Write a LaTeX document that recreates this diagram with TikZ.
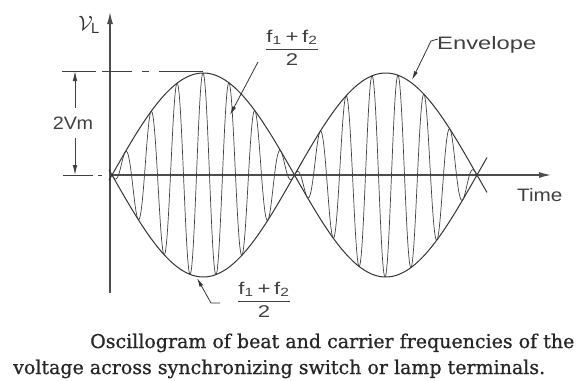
\documentclass[tikz,border=0pt]{standalone}
\usepackage{fontspec}
\usepackage{amsmath}
\usepackage{graphicx}
\setsansfont{Liberation Sans}
\newfontfamily\capfont{DejaVu Serif}[FakeBold=0.8]
\newcommand{\hsc}[2]{\scalebox{#1}[1]{#2}}
\usetikzlibrary{arrows.meta}
\begin{document}
\begin{tikzpicture}[x=1pt,y=-1pt,
  axis/.style={draw=black!70, line width=1.1pt},
  env/.style={draw=black!80, line width=1pt},
  carrier/.style={draw=black!75, line width=0.7pt},
  leader/.style={draw=black!80, line width=0.8pt, -{Latex[length=9pt,width=4pt]}},
  dimarrow/.style={draw=black!75, line width=0.8pt, -{Latex[length=10pt,width=4.5pt]}},
  lbl/.style={inner sep=0pt, text=black!75, font=\sffamily\fontsize{18}{20}\selectfont},
  frac/.style={inner sep=0pt, text=black!75, font=\sffamily\fontsize{17}{19}\selectfont},
  captext/.style={inner sep=0pt, anchor=base west, text=black!85, font=\capfont\fontsize{19}{21}\selectfont}]
\useasboundingbox (0,0) rectangle (583,380);
% axes
\coordinate (yb) at (110,293);
\coordinate (yt) at (110,12);
\coordinate (xo) at (110,175);
\coordinate (xt) at (551,175);
\draw[axis, -{Latex[length=12pt,width=6pt]}] (yb) -- (yt);
\draw[axis, -{Latex[length=12pt,width=6pt]}] (xo) -- (xt);
% extension lines
\coordinate (topl) at (62,71);
\coordinate (topr) at (203,71);
\coordinate (botl) at (63,175);
\draw[draw=black!75, line width=0.9pt, dash pattern=on 34pt off 6pt on 30pt off 10pt on 7pt off 10pt on 60pt] (topl) -- (topr);
\draw[draw=black!75, line width=0.9pt, dash pattern=on 30pt off 5pt on 4pt off 8pt on 10pt] (botl) -- (xo);
% envelope
\draw[env] plot[domain=109:487, samples=220, smooth] (\x,{175-102*sin((\x-112)*0.986301)});
\draw[env] plot[domain=109:487, samples=220, smooth] (\x,{175+102*sin((\x-112)*0.986301)});
% carrier
\draw[carrier] plot[domain=112:477, samples=1100] (\x,{175-102*sin((\x-112)*0.986301)*cos((\x-203)*13.84615)});
% 2Vm dimension
\node[lbl] (vm) at (73,123) {\hsc{1.1}{2V\kern-0.5pt m}};
\coordinate (vmtop) at (75,71);
\coordinate (vmbot) at (75,175);
\draw[dimarrow] (vm.north -| vmtop) ++(0,-9) -- (vmtop);
\draw[dimarrow] (vm.south -| vmbot) ++(0,9) -- (vmbot);
% y label
\node[inner sep=0pt, text=black!80, font=\fontsize{21}{23}\selectfont] (vl) at (89,25) {$\mathcal{V}_{\textsf{L}}$};
% top fraction label
\node[frac] (ftop) at (292,48) {\hsc{1.3}{$\dfrac{\textsf{f}_{\textsf{1}}\textsf{\,+\,}\textsf{f}_{\textsf{2}}}{\textsf{2}}$}};
\coordinate (ftopa) at (258,62);
\coordinate (ftopb) at (230,115);
\draw[leader] (ftopa) -- (ftopb);
% envelope label
\node[lbl, anchor=west] (envl) at (437,45) {\hsc{1.32}{Envelope}};
\coordinate (enva) at (438,39);
\coordinate (envb) at (431,41);
\coordinate (envc) at (412,80);
\draw[leader] (enva) -- (envb) -- (envc);
% bottom fraction label
\node[frac] (fbot) at (264,300) {\hsc{1.3}{$\dfrac{\textsf{f}_{\textsf{1}}\textsf{\,+\,}\textsf{f}_{\textsf{2}}}{\textsf{2}}$}};
\coordinate (fba) at (220,303);
\coordinate (fbb) at (211,303);
\coordinate (fbc) at (197,278);
\draw[leader] (fba) -- (fbb) -- (fbc);
% time label
\node[lbl, anchor=west] (time) at (517,195) {\hsc{1.15}{Time}};
% caption
\node[captext] (cap1) at (90,348) {Oscillogram of beat and carrier frequencies of the};
\node[captext] (cap2) at (13,374) {voltage across synchronizing switch or lamp terminals.};
\end{tikzpicture}
\end{document}
